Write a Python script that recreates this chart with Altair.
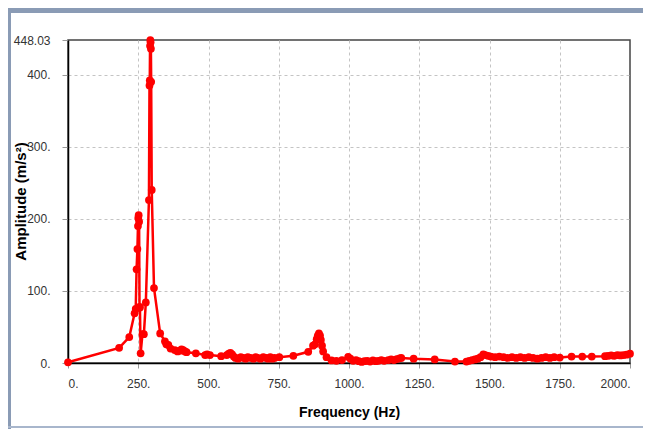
import altair as alt
import pandas as pd

freq = [0, 182, 218, 237, 241, 244, 247, 249, 250, 251.5, 253, 254.5, 256, 258.5,
        265, 270, 277, 288, 290, 291, 292, 293, 294, 295, 296, 298, 306,
        328, 345, 350, 357, 365, 380, 390, 398, 404, 410, 416, 422, 455, 488, 495, 505,
        545, 565, 572, 578, 584, 590, 596, 605, 615, 625, 632, 640, 650, 660, 668,
        675, 685, 695, 705, 712, 720, 727, 735, 752, 802, 855, 872, 879, 885, 889,
        893, 897, 900, 904, 908, 920, 938, 955, 975, 997, 1005, 1015, 1025, 1035,
        1045, 1055, 1065, 1075, 1085, 1095, 1105, 1115, 1125, 1140, 1150, 1160,
        1170, 1180, 1186, 1230, 1305, 1377, 1418, 1428, 1438, 1448, 1458, 1468,
        1478, 1485, 1495, 1505, 1520, 1535, 1550, 1565, 1580, 1595, 1610, 1625,
        1640, 1655, 1670, 1685, 1700, 1715, 1730, 1750, 1792, 1830, 1864, 1911,
        1922, 1933, 1944, 1955, 1966, 1977, 1988, 2000]
amp = [1, 21, 36, 69, 75, 130, 158, 190, 201, 205, 196, 78, 77, 13.5,
       40, 40, 84, 226, 385, 392, 440, 448.03, 445, 436, 390, 240, 104,
       41, 30, 26, 25, 20, 18, 16, 17, 19, 18, 16, 15, 13.5, 11, 12, 11,
       9.5, 11, 13, 14, 12, 9, 7, 6, 8, 7, 6, 8, 7, 6, 8,
       7, 6, 8, 7, 6, 8, 6, 7, 8, 10, 15.5, 24, 26, 33, 38,
       41, 38, 32, 24, 16, 8, 3.5, 3, 4, 8.5, 6, 3, 4, 2.5,
       1.5, 2.5, 3, 2, 3.5, 2.5, 3, 4, 3, 4, 5, 4,
       5.5, 6.5, 7, 6, 5, 2, 2, 3, 4, 5, 6, 8,
       12, 11, 10, 9, 8, 9, 8, 7, 8, 7, 8, 7,
       8, 7, 6, 7, 8, 7, 8, 7.5, 9, 9, 9, 9.5,
       10, 10.5, 10, 11, 10.5, 11, 11.5, 13]

x_ticks = [0, 250, 500, 750, 1000, 1250, 1500, 1750, 2000]
y_ticks = [0, 100, 200, 300, 400, 448.03]

df = pd.DataFrame({"freq": freq, "amp": amp})

NARROW = "Liberation Sans Narrow, Liberation Sans, sans-serif"
WIDE = "Liberation Sans, sans-serif"
BORDER = "#8a9bb5"

x = alt.X("freq:Q", scale=alt.Scale(domain=[0, 2000], nice=False, zero=False),
          axis=alt.Axis(values=x_ticks,
                        labelExpr="datum.value + '.'", title="Frequency (Hz)",
                        titleFont=NARROW, titleFontSize=14, titleFontWeight="bold",
                        titleColor="#000", titlePadding=16,
                        labelFont=NARROW, labelFontSize=12, labelColor="#333",
                        labelPadding=10, tickSize=5, tickColor="#999",
                        domainColor="#000", domainWidth=1.5,
                        grid=True, gridDash=[3, 3], gridColor="#c4c4c4",
                        gridOpacity={"condition": {"test": "datum.value <= 0 || datum.value >= 2000", "value": 0}, "value": 1}))
y = alt.Y("amp:Q", scale=alt.Scale(domain=[0, 448.03], nice=False, zero=True),
          axis=alt.Axis(values=y_ticks,
                        labelExpr="datum.value == 448.03 ? '448.03' : datum.value + '.'",
                        title="Amplitude (m/s²)",
                        titleFont=WIDE, titleFontSize=15, titleFontWeight="bold",
                        titleColor="#000", titleX=-48, titleY=161, titleAngle=270,
                        titleAlign="center", titleBaseline="middle",
                        labelFont=NARROW, labelFontSize=12, labelColor="#333",
                        labelPadding=12, tickSize=6, tickColor="#999",
                        domainColor="#000", domainWidth=1.5,
                        grid=True, gridDash=[3, 3], gridColor="#c4c4c4",
                        gridOpacity={"condition": {"test": "datum.value <= 0 || datum.value >= 448", "value": 0}, "value": 1}))

line = alt.Chart(df).mark_line(color="#ff0000", strokeWidth=2.5,
                               point=alt.OverlayMarkDef(color="#ff0000", size=60, filled=True, opacity=1)
                               ).encode(x=x, y=y)

frame_data = alt.Data(values=[{"k": 1}])
top_band = alt.Chart(frame_data).mark_rect(color=BORDER).encode(
    x=alt.value(-60), x2=alt.value(575), y=alt.value(-32), y2=alt.value(-27))
left_band = alt.Chart(frame_data).mark_rect(color=BORDER).encode(
    x=alt.value(-60), x2=alt.value(-57), y=alt.value(-32), y2=alt.value(389))
bottom_band = alt.Chart(frame_data).mark_rect(color="#a8b6cc").encode(
    x=alt.value(-60), x2=alt.value(575), y=alt.value(386), y2=alt.value(388))

chart = alt.layer(top_band, left_band, bottom_band, line).properties(
    width=562, height=323,
    autosize=alt.AutoSizeParams(type="none"),
    padding={"left": 60, "top": 32, "right": 13, "bottom": 66},
    background="white",
).configure_view(stroke="#444", strokeWidth=1.5)

chart.save("out.html", embed_options={"renderer": "svg", "actions": False})
